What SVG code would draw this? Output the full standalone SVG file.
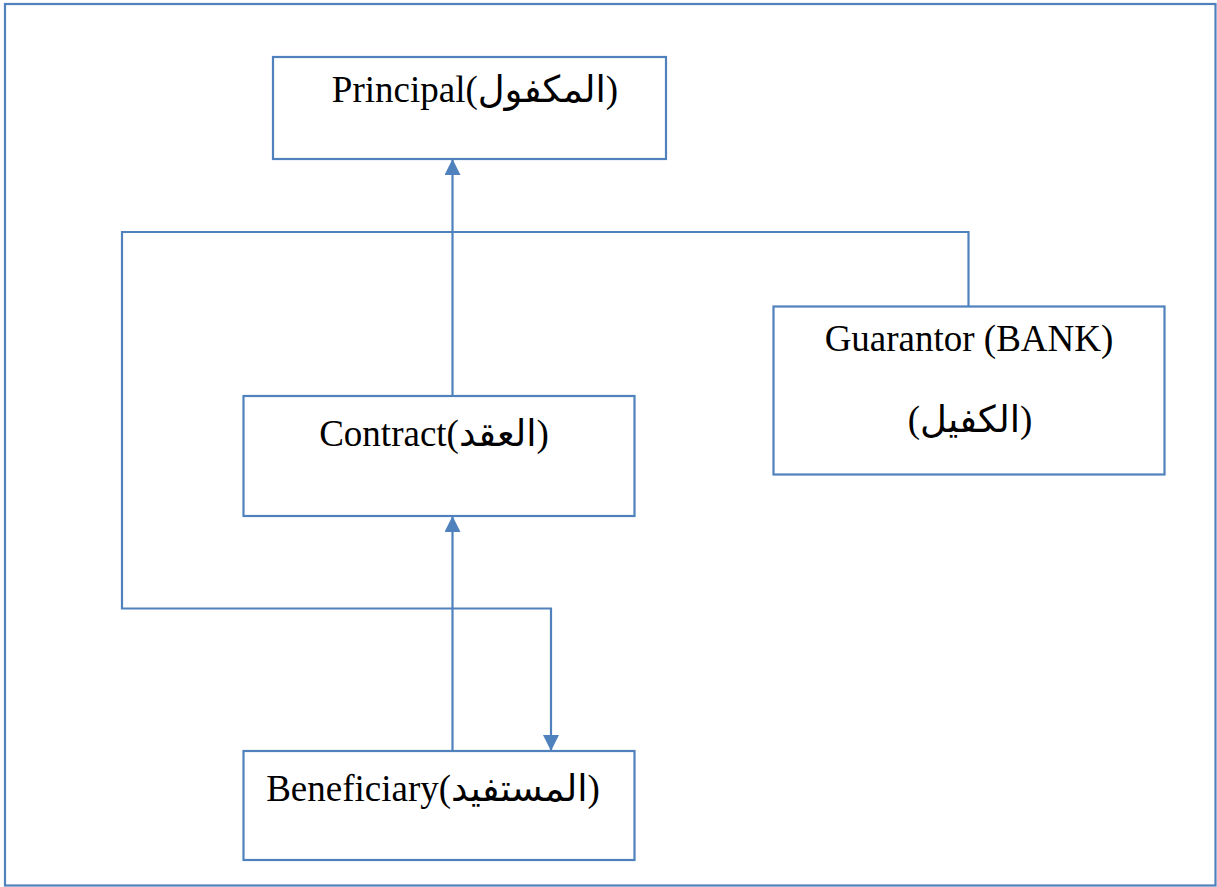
<svg xmlns="http://www.w3.org/2000/svg" width="1217" height="887" viewBox="0 0 1217 887">
<defs>
<marker id="arr" markerWidth="16" markerHeight="16" refX="15" refY="8" orient="auto" markerUnits="userSpaceOnUse">
<path d="M0,0 L16,8 L0,16 Z" fill="#4F81BD"/>
</marker>
<style>
.box{fill:#fff;stroke:#4F81BD;stroke-width:2.2}
.ln{fill:none;stroke:#4F81BD;stroke-width:2.2}
.t{font-family:"Liberation Serif","DejaVu Serif","DejaVu Sans",serif;font-size:37px;fill:#000;text-anchor:middle}
</style>
</defs>
<rect x="0" y="0" width="1217" height="887" fill="#fff"/>
<rect x="5" y="4" width="1210.5" height="881.5" fill="none" stroke="#4F81BD" stroke-width="2.2"/>
<g id="connectors">
<path class="ln" d="M452.5,396 L452.5,160" marker-end="url(#arr)"/>
<path class="ln" d="M968.5,306 L968.5,232 L122,232 L122,608.5 L551,608.5 L551,750" marker-end="url(#arr)"/>
<path class="ln" d="M452.5,751 L452.5,517" marker-end="url(#arr)"/>
</g>
<g id="principal">
<rect class="box" x="273" y="57" width="393" height="102"/>
<text class="t" x="475" y="102">Principal(المكفول)</text>
</g>
<g id="contract">
<rect class="box" x="243.5" y="396" width="391" height="120"/>
<text class="t" x="434" y="446">Contract(العقد)</text>
</g>
<g id="guarantor">
<rect class="box" x="773.5" y="306.5" width="391" height="168"/>
<text class="t" x="969" y="351">Guarantor (BANK)</text>
<text class="t" x="970" y="432">(الكفيل)</text>
</g>
<g id="beneficiary">
<rect class="box" x="243.5" y="751" width="391" height="109"/>
<text class="t" x="433" y="801">Beneficiary(المستفيد)</text>
</g>
</svg>
